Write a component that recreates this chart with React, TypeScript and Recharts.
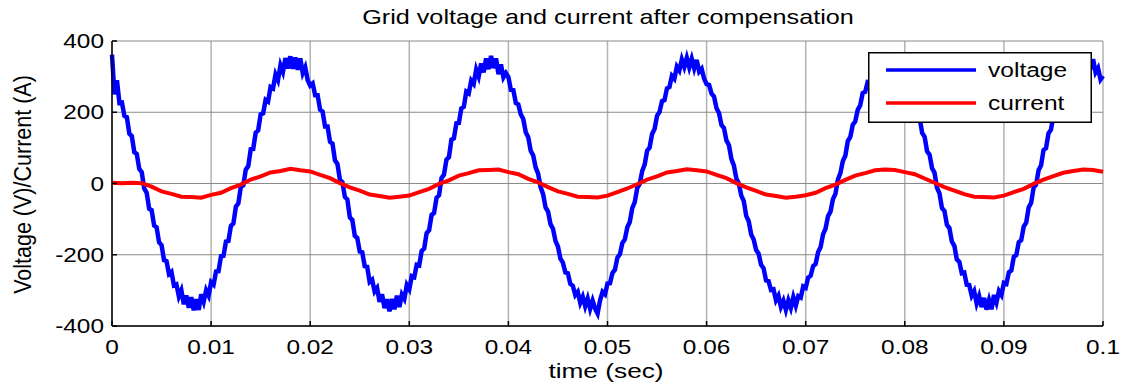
import React from 'react'
import { LineChart, Line, XAxis, YAxis, CartesianGrid, Legend } from 'recharts'

// sample spacing (sec) of the two traces
const VOLTAGE_STEP = 0.00025
const CURRENT_STEP = 0.001

// grid voltage (V), every 0.25 ms (one row = half a cycle)
const voltage = [
  362, 250, 290, 226, 227, 190, 186, 140, 133, 88, 83, 41, 32, -14, -26, -71, -75, -118, -123, -165,
  -173, -215, -218, -254, -248, -286, -283, -317, -300, -339, -314, -349, -319, -356, -325, -355, -311, -332, -300, -315,
  -277, -284, -247, -246, -204, -203, -163, -161, -119, -112, -65, -56, -9, -5, 39, 49, 96, 97, 143, 149,
  194, 197, 235, 230, 271, 267, 306, 290, 332, 313, 352, 323, 357, 322, 354, 319, 351, 310, 326, 290,

  275, 281, 248, 248, 207, 202, 160, 160, 117, 112, 65, 55, 10, 4, -38, -45, -95, -102, -147, -153,
  -191, -193, -232, -234, -276, -270, -303, -293, -332, -311, -350, -325, -359, -324, -353, -315, -347, -312, -324, -285,
  -297, -260, -263, -228, -230, -189, -183, -139, -131, -88, -83, -40, -33, 15, 25, 67, 74, 123, 127, 169,
  170, 211, 215, 258, 253, 289, 280, 320, 300, 337, 312, 351, 321, 358, 324, 351, 307, 334, 298, 310,

  299, 263, 262, 226, 222, 194, 181, 144, 130, 92, 79, 45, 28, -10, -30, -67, -79, -114, -127, -161,
  -177, -211, -222, -250, -252, -282, -287, -313, -304, -335, -318, -345, -323, -352, -329, -351, -365, -328, -304, -311,
  -281, -280, -251, -242, -208, -199, -167, -157, -123, -108, -69, -52, -13, -1, 35, 53, 92, 101, 139, 153,
  190, 201, 231, 234, 267, 271, 302, 294, 328, 317, 348, 327, 353, 326, 350, 323, 347, 314, 322, 294,

  279, 277, 252, 244, 211, 198, 164, 156, 121, 108, 69, 51, 14, 0, -34, -49, -91, -106, -143, -157,
  -187, -197, -228, -238, -272, -274, -299, -297, -328, -315, -346, -329, -355, -328, -349, -319, -343, -316, -320, -289,
  -293, -264, -259, -232, -226, -193, -179, -143, -127, -92, -79, -44, -29, 11, 29, 63, 78, 119, 131, 165,
  174, 207, 219, 254, 257, 285, 284, 316, 304, 333, 316, 347, 325, 354, 328, 347, 311, 330, 302, 306,

  297, 265, 260, 228, 225, 192, 184, 142, 131, 90, 81, 43, 30, -12, -28, -69, -77, -116, -125, -163,
  -175, -213, -220, -252, -250, -284, -285, -315, -302, -337, -316, -347, -321, -354, -327, -353, -313, -334, -302, -313,
  -279, -282, -249, -244, -206, -201, -165, -159, -121, -110, -67, -54, -11, -3, 37, 51, 94, 99, 141, 151,
  192, 199, 233, 232, 269, 269, 304, 292, 330, 315, 350, 325, 355, 324, 352, 321, 349, 312, 324, 292,
  302,
]

// grid current (A), every 1 ms
const current = [
  2, 1, 2, 1, -9, -22, -29, -37, -38, -40, -32, -26, -13, -3, 11, 20, 31, 35, 41, 37,
  34, 24, 15, 1, -11, -20, -31, -35, -40, -37, -34, -24, -15, -1, 9, 22, 29, 37, 38, 39,
  32, 26, 13, 3, -10, -22, -29, -37, -38, -39, -34, -24, -14, -2, 11, 20, 31, 35, 40, 37,
  34, 24, 15, 1, -11, -21, -31, -35, -40, -37, -33, -26, -13, -3, 10, 22, 29, 37, 39, 38,
  32, 26, 14, 2, -10, -20, -30, -37, -38, -39, -34, -24, -15, -1, 11, 21, 30, 35, 39, 38,
  33,
]

const SERIES = ['voltage', 'current']
const X_TICKS = [0, 0.01, 0.02, 0.03, 0.04, 0.05, 0.06, 0.07, 0.08, 0.09, 0.1]
const X_TICK_LABELS = ['0', '0.01', '0.02', '0.03', '0.04', '0.05', '0.06', '0.07', '0.08', '0.09', '0.1']
const Y_TICKS = [-400, -200, 0, 200, 400]

const voltageData = voltage.map((v, i) => ({ t: i * VOLTAGE_STEP, v }))
const currentData = current.map((v, i) => ({ t: i * CURRENT_STEP, v }))

const FONT = '"Liberation Sans", Arial, sans-serif'

// matlab export is stretched sideways, so squeeze text the same way
function XTick({ x, y, index }: any) {
  return (
    <g transform={`translate(${x},${y})`}>
      <text transform="scale(1.22,1)" textAnchor="middle" dy="0.71em" fontSize={20} fontFamily={FONT} fill="#000">
        {X_TICK_LABELS[index]}
      </text>
    </g>
  )
}

function YTick({ x, y, payload }: any) {
  return (
    <g transform={`translate(${x},${y})`}>
      <text transform="scale(1.22,1)" textAnchor="end" dy="0.36em" fontSize={20} fontFamily={FONT} fill="#000">
        {payload.value}
      </text>
    </g>
  )
}

function LegendBox({ payload }: any) {
  // keep plot order, recharts sorts by name otherwise
  const items = [...(payload ?? [])].sort((a: any, b: any) => SERIES.indexOf(a.value) - SERIES.indexOf(b.value))
  return (
    <svg width={224} height={71} style={{ display: 'block' }}>
      <rect x={0.75} y={0.75} width={222.5} height={69.5} fill="#fff" stroke="#000" strokeWidth={1.5} />
      {items.map((p: any, i: number) => (
        <g key={p.value}>
          <line x1={18} x2={108} y1={18 + i * 33} y2={18 + i * 33} stroke={p.color} strokeWidth={3.5} />
          <text
            transform={`translate(120,${18 + i * 33}) scale(1.17,1)`}
            dy="0.35em"
            fontSize={21}
            fontFamily={FONT}
            fill="#000"
          >
            {p.value}
          </text>
        </g>
      ))}
    </svg>
  )
}

const textStyle: React.CSSProperties = {
  position: 'absolute',
  fontFamily: FONT,
  fontSize: 21,
  lineHeight: '21px',
  color: '#000',
  whiteSpace: 'nowrap',
}

export default function App() {
  return (
    <div style={{ position: 'absolute', left: 0, top: 0, width: 1129, height: 390, background: '#fff' }}>
      <LineChart width={1129} height={390} margin={{ top: 41, right: 26, bottom: 24, left: 12 }}>
        <CartesianGrid horizontal={false} stroke="#b3b3b3" strokeWidth={1.5} />
        <CartesianGrid vertical={false} stroke="#8a8a8a" strokeWidth={1} />
        <XAxis
          dataKey="t"
          type="number"
          domain={[0, 0.1]}
          ticks={X_TICKS}
          allowDuplicatedCategory={false}
          height={40}
          tickSize={-5}
          tickMargin={19}
          tick={<XTick />}
          axisLine={{ stroke: '#000', strokeWidth: 1.5 }}
          tickLine={{ stroke: '#000', strokeWidth: 1.5 }}
        />
        <XAxis
          xAxisId="top"
          orientation="top"
          type="number"
          domain={[0, 0.1]}
          ticks={X_TICKS}
          height={0}
          tickSize={-5}
          tick={false}
          axisLine={{ stroke: '#000', strokeWidth: 1.5 }}
          tickLine={{ stroke: '#000', strokeWidth: 1.5 }}
        />
        <YAxis
          type="number"
          domain={[-400, 400]}
          ticks={Y_TICKS}
          width={100}
          tickSize={-5}
          tickMargin={13}
          tick={<YTick />}
          axisLine={{ stroke: '#000', strokeWidth: 1.5 }}
          tickLine={{ stroke: '#000', strokeWidth: 1.5 }}
        />
        <YAxis
          yAxisId="right"
          orientation="right"
          type="number"
          domain={[-400, 400]}
          ticks={Y_TICKS}
          width={0}
          tickSize={-5}
          tick={false}
          axisLine={{ stroke: '#000', strokeWidth: 1.5 }}
          tickLine={{ stroke: '#000', strokeWidth: 1.5 }}
        />
        <Line
          data={voltageData}
          dataKey="v"
          name="voltage"
          type="linear"
          stroke="#0000ff"
          strokeWidth={4.5}
          strokeLinejoin="miter"
          dot={false}
          isAnimationActive={false}
        />
        <Line
          data={currentData}
          dataKey="v"
          name="current"
          type="linear"
          stroke="#ff0000"
          strokeWidth={4}
          dot={false}
          isAnimationActive={false}
        />
        <Legend
          layout="vertical"
          align="center"
          verticalAlign="middle"
          content={<LegendBox />}
          wrapperStyle={{ left: 868, top: 52, width: 224, height: 71 }}
        />
      </LineChart>

      <div style={{ ...textStyle, left: 607.5, top: 6, transform: 'translateX(-50%) scaleX(1.2)' }}>
        Grid voltage and current after compensation
      </div>
      <div style={{ ...textStyle, left: 605.5, top: 360, transform: 'translateX(-50%) scaleX(1.25)' }}>
        time (sec)
      </div>
      <div
        style={{
          ...textStyle,
          fontSize: 21.5,
          left: 24 - 150,
          top: 184 - 10.5,
          width: 300,
          textAlign: 'center',
          transform: 'rotate(-90deg) scaleY(1.15)',
        }}
      >
        Voltage (V)/Current (A)
      </div>
    </div>
  )
}
